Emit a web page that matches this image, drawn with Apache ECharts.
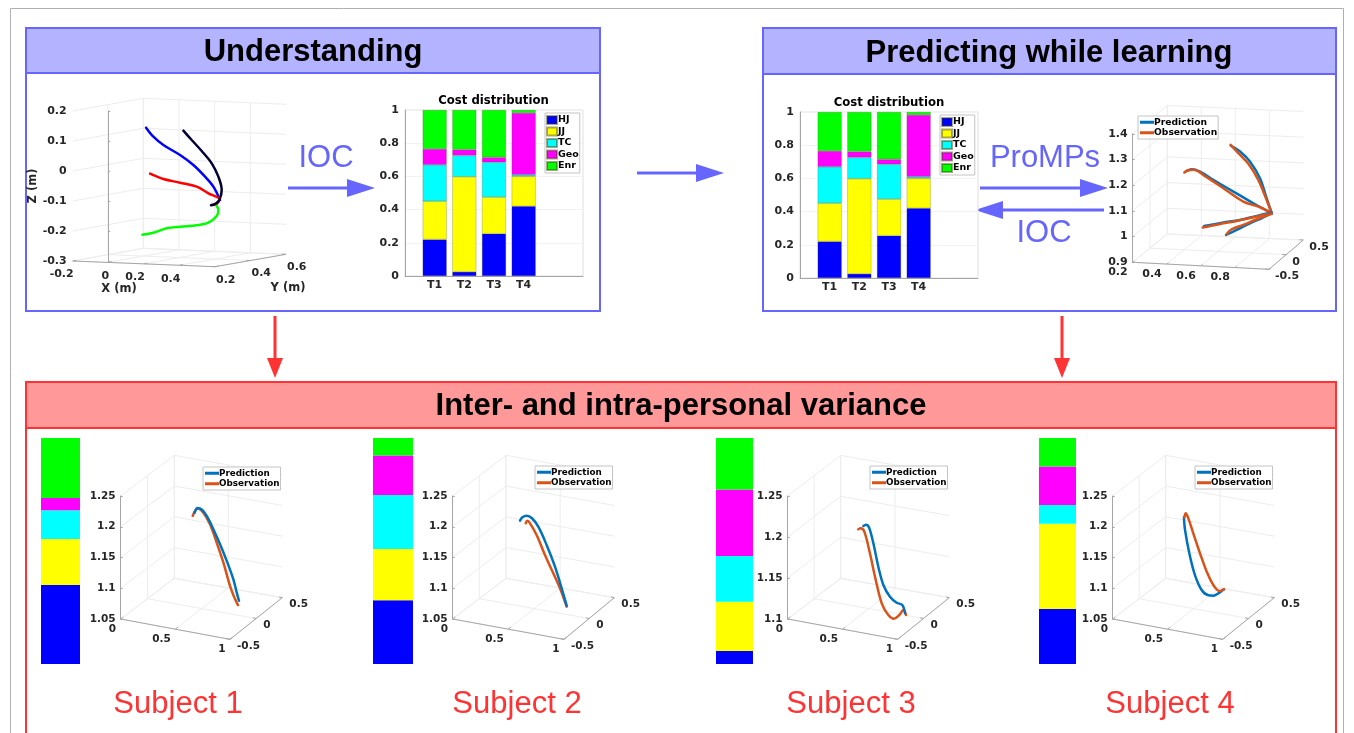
<!DOCTYPE html>
<html><head><meta charset="utf-8">
<style>html,body{margin:0;padding:0;background:#fff}#c{width:1354px;height:733px}</style>
<script src="https://cdn.jsdelivr.net/npm/echarts@6/dist/echarts.min.js"></script>
</head><body><div id="c"></div>
<script>
// ---------- data ----------
const stackNames = ['HJ','JJ','TC','Geo','Enr'];
const stackColors = ['#0000ff','#ffff00','#00ffff','#ff00ff','#00ff00'];
const taskLabels = ['','T1','T2','T3','T4','',''];
const taskHJ  = [null,0.22,0.025,0.255,0.42,null,null];
const taskJJ  = [null,0.23,0.573,0.22,0.18,null,null];
const taskTC  = [null,0.22,0.128,0.21,0.01,null,null];
const taskGeo = [null,0.095,0.036,0.03,0.372,null,null];
const taskEnr = [null,0.235,0.238,0.285,0.018,null,null];
const subject1Cost = [0.35,0.203,0.127,0.055,0.265];
const subject2Cost = [0.282,0.227,0.239,0.175,0.077];
const subject3Cost = [0.0575,0.218,0.202,0.295,0.2275];
const subject4Cost = [0.243,0.378,0.082,0.171,0.126];
const subjectLabels = ['Subject 1','Subject 2','Subject 3','Subject 4'];

// endpoint trajectories: [projected horizontal position, height]
const understandBlue  = [[.2123,.1444],[.2535,.1144],[.3097,.0867],[.4034,.0533],[.4784,.02],[.544,-.0189],[.5908,-.0522],[.6283,-.0967]];
const understandBlack = [[.4222,.1344],[.469,.1033],[.5253,.0667],[.5815,.0256],[.619,-.0189],[.6377,-.0633],[.6246,-.0967],[.6002,-.11],[.5777,-.1144]];
const understandRed   = [[.2348,-.0089],[.3097,-.0267],[.4034,-.0389],[.4971,-.0522],[.5627,-.0744],[.6246,-.0944],[.6096,-.11],[.5815,-.1133]];
const understandGreen = [[.1917,-.2122],[.2535,-.2056],[.3285,-.1911],[.4034,-.1856],[.4971,-.1811],[.5627,-.1722],[.6096,-.15],[.619,-.13],[.6096,-.1167]];

const reachPred1 = [[.775,1.3545],[.83,1.3312],[.888,1.2922],[.947,1.2273],[.986,1.1494],[1.016,1.0909]];
const reachObs1  = [[.775,1.3571],[.82,1.3247],[.879,1.2831],[.937,1.2208],[.982,1.1494],[1.016,1.0909]];
const reachPred2 = [[.517,1.2558],[.546,1.2623],[.595,1.2532],[.673,1.2208],[.791,1.1753],[.908,1.1299],[1.016,1.0909]];
const reachObs2  = [[.503,1.2494],[.527,1.2584],[.556,1.2597],[.634,1.2312],[.732,1.1883],[.849,1.1364],[.947,1.1143],[1.016,1.0909]];
const reachPred3 = [[.619,1.0416],[.732,1.0545],[.83,1.0649],[.928,1.0805],[1.016,1.0935]];
const reachObs3  = [[.611,1.0351],[.712,1.0493],[.81,1.061],[.928,1.0779],[1.016,1.0909]];
const reachPred4 = [[.748,1.0065],[.81,1.026],[.888,1.0519],[.957,1.0714],[1.016,1.0909]];
const reachObs4  = [[.752,1.0104],[.781,1.0286],[.849,1.0455],[.928,1.0675],[1.016,1.0883]];

const subject1Pred = [[.677,1.223],[.704,1.2305],[.741,1.228],[.787,1.2176],[.848,1.196],[.909,1.1716],[.97,1.1446],[1.03,1.1149],[1.061,1.0932],[1.082,1.0797]];
const subject1Obs  = [[.659,1.2176],[.68,1.2257],[.704,1.2295],[.756,1.223],[.817,1.204],[.878,1.1743],[.939,1.1419],[1,1.104],[1.046,1.0824],[1.073,1.0727]];
const subject2Pred = [[.605,1.2099],[.626,1.2153],[.665,1.218],[.71,1.2142],[.769,1.2001],[.844,1.1703],[.919,1.1351],[.979,1.0999],[1.024,1.0717]];
const subject2Obs  = [[.656,1.2056],[.671,1.2099],[.695,1.2056],[.754,1.1866],[.829,1.1541],[.904,1.1243],[.964,1.0999],[1.024,1.0701]];
const subject3Pred = [[.688,1.2134],[.712,1.215],[.739,1.2118],[.779,1.1923],[.824,1.1638],[.87,1.1415],[.93,1.1272],[.991,1.1199],[1.042,1.1171],[1.067,1.1069]];
const subject3Obs  = [[.642,1.2094],[.664,1.2106],[.697,1.2065],[.748,1.1801],[.794,1.1516],[.855,1.1191],[.915,1.1049],[.967,1.1004],[1.015,1.1049],[1.052,1.111],[1.076,1.1049]];
const subject4Pred = [[.648,1.2153],[.658,1.1947],[.697,1.1568],[.748,1.1215],[.809,1.0972],[.87,1.0885],[.915,1.0879],[.961,1.0917],[1.012,1.0982]];
const subject4Obs  = [[.652,1.2153],[.664,1.2218],[.688,1.2137],[.733,1.1893],[.794,1.1568],[.855,1.127],[.915,1.1053],[.97,1.0955],[1.012,1.0982]];

// tick labels of the depth axes
const xTicksUnderstand = ['-0.2','0','0.2','0.4'];
const yTicksUnderstand = ['0.2','0.4','0.6'];
const xTicksReach = ['0.2','0.4','0.6','0.8'];
const yTicksDepth = ['-0.5','0','0.5'];
const xTicksSubject = ['0','0.5','1'];

// ---------- layout helpers ----------
const BOLD = '"DejaVu Sans"', SANS = '"Liberation Sans"';
const INK = '#262626', BLUEL = '#0072bd', ORANGE = '#d95319';
const grid=[], xAxis=[], yAxis=[], series=[], legend=[], graphic=[], title=[];
const line=(a,b,color,w)=>graphic.push({type:'line',silent:true,z:-5,shape:{x1:a[0],y1:a[1],x2:b[0],y2:b[1]},style:{stroke:color,lineWidth:w||1}});
const text=(t,x,y,o)=>graphic.push({type:'text',silent:true,z:5,x,y,rotation:o.rot||0,style:Object.assign({text:t,x:0,y:0,fill:o.c||INK,font:`${o.w||'bold'} ${o.s||10}px ${o.f||BOLD}`,textAlign:o.a||'center',textVerticalAlign:'middle'})});
const mix=(p,q,t)=>[p[0]+(q[0]-p[0])*t,p[1]+(q[1]-p[1])*t];
const up=(p,h)=>[p[0],p[1]-h];

function box(x,y,w,h,fill,stroke,lw){graphic.push({type:'rect',silent:true,z:-10,shape:{x,y,width:w,height:h},style:{fill:fill,stroke:stroke,lineWidth:lw||2}});}
function arrow(x1,y1,x2,y2,color){
  const dx=Math.sign(x2-x1),dy=Math.sign(y2-y1),L=28,W=7;
  const bx=x2-dx*L,by=y2-dy*(dy?20:0);
  if(dy===0){line([x1,y1],[bx,by],color,3);
    graphic.push({type:'polygon',silent:true,z:-4,shape:{points:[[x2,y2],[bx,y2-W-2],[bx,y2+W+2]]},style:{fill:color}});}
  else{line([x1,y1],[bx,by],color,3);
    graphic.push({type:'polygon',silent:true,z:-4,shape:{points:[[x2,y2],[x2-8,by],[x2+8,by]]},style:{fill:color}});}
}

function stacked(cfg){
  const i=grid.length;
  grid.push({left:cfg.l,top:cfg.t,width:cfg.w,height:cfg.h,show:true,borderColor:'#e0e0e0',borderWidth:1,backgroundColor:'#fff'});
  xAxis.push({gridIndex:i,type:'category',boundaryGap:false,data:taskLabels,axisTick:{show:false},axisLine:{lineStyle:{color:'#a6a6a6'}},splitLine:{show:false},
    axisLabel:{interval:0,color:INK,fontFamily:BOLD,fontWeight:'bold',fontSize:11,margin:4}});
  yAxis.push({gridIndex:i,type:'value',min:0,max:1,interval:0.2,axisLine:{show:true,lineStyle:{color:'#a6a6a6'}},axisTick:{show:false},
    splitLine:{lineStyle:{color:'#f2f2f2',width:1}},axisLabel:{color:INK,fontFamily:BOLD,fontWeight:'bold',fontSize:11,margin:6,formatter:v=>String(+v.toFixed(1))}});
  [taskHJ,taskJJ,taskTC,taskGeo,taskEnr].forEach((d,k)=>series.push({type:'bar',name:stackNames[k],xAxisIndex:i,yAxisIndex:i,stack:'s'+i,data:d,barWidth:24,
    itemStyle:{color:stackColors[k],borderColor:'rgba(60,60,0,.45)',borderWidth:.5},animation:false,silent:true}));
  title.push({text:'Cost distribution',left:cfg.l+cfg.tx,top:cfg.t-15,textAlign:'center',padding:0,textStyle:{fontFamily:BOLD,fontWeight:'bold',fontSize:11.7,color:'#000'}});
  legend.push({data:stackNames.map(n=>({name:n})),left:cfg.ll,top:cfg.lt,orient:'vertical',padding:[2,1,2,1],itemGap:1.5,itemWidth:10,itemHeight:8,selectedMode:false,
    backgroundColor:'#fff',borderColor:'#c4c4c4',borderWidth:1,textStyle:{fontFamily:BOLD,fontWeight:'bold',fontSize:9.5,color:'#000',padding:[0,0,0,-4]},icon:'rect'});
}
function column(x,w,vals){
  const i=grid.length;
  grid.push({left:x,top:438,width:w,height:226});
  xAxis.push({gridIndex:i,type:'category',data:['c'],show:false});
  yAxis.push({gridIndex:i,type:'value',min:0,max:1,show:false});
  vals.forEach((v,k)=>series.push({type:'bar',name:stackNames[k],xAxisIndex:i,yAxisIndex:i,stack:'c'+i,data:[v],barWidth:'100%',itemStyle:{color:stackColors[k]},animation:false,silent:true}));
}
function panel(p){
  const {A,B,C,D,H}=p;
  const xF=p.xF, yF=p.yF, zN=p.zTicks, light='#ededed', axisC='#a6a6a6';
  // walls and floor
  for(let k=0;k<zN;k++){const h=H*k/(zN-1);line(up(A,h),up(D,h),light);line(up(D,h),up(C,h),light);}
  xF.forEach(f=>{const a=mix(A,B,f),d=mix(D,C,f);line(a,d,light);if(f<1)line(d,up(d,H),light);});
  yF.forEach(f=>{const a=mix(A,D,f),b=mix(B,C,f);line(a,b,light);if(f>0&&f<1)line(a,up(a,H),light);});
  line(up(D,H),D,light);
  line(A,B,axisC);line(B,C,axisC);
  xF.forEach(f=>{const a=mix(A,B,f);line(a,[a[0]+(D[0]-A[0])*.05,a[1]+(D[1]-A[1])*.05],axisC);});
  yF.forEach(f=>{const b=mix(B,C,f);line(b,[b[0]+(A[0]-B[0])*.03,b[1]+(A[1]-B[1])*.03],axisC);});
  // depth axis labels
  p.xLabels.forEach((t,k)=>{const a=mix(A,B,xF[k]);text(t,a[0]+p.xo[0],a[1]+p.xo[1],{a:'right',s:p.fs});});
  p.yLabels.forEach((t,k)=>{const b=mix(B,C,yF[k]);text(t,b[0]+p.yo[0],b[1]+p.yo[1],{a:'left',s:p.fs});});
  // library scales for the curves and the vertical axis
  const i=grid.length;
  const top=A[1]-H, right=C[0];
  grid.push({left:A[0],top:top,width:right-A[0],height:H});
  const span=(p.uMax-p.uMin)*(right-A[0])/(B[0]-A[0]);
  xAxis.push({gridIndex:i,type:'value',min:p.uMin,max:p.uMin+span,show:false,splitLine:{show:false}});
  yAxis.push({gridIndex:i,type:'value',min:p.zMin,max:p.zMax,interval:p.zStep,
    axisLine:{show:true,lineStyle:{color:axisC}},axisTick:{show:true,inside:true,length:2,lineStyle:{color:axisC}},splitLine:{show:false},
    axisLabel:{color:INK,fontFamily:BOLD,fontWeight:'bold',fontSize:p.fs,margin:p.zm||5,formatter:v=>String(+v.toFixed(2))}});
  p.curves.forEach(c=>series.push({type:'line',name:c.name,xAxisIndex:i,yAxisIndex:i,data:c.data,smooth:0.35,symbol:'none',clip:false,
    lineStyle:{color:c.color,width:2.5,cap:'round'},itemStyle:{color:c.color},animation:false,silent:true,z:c.z||2}));
  if(p.legend) legend.push({data:['Prediction','Observation'],left:p.legend[0],top:p.legend[1],orient:'vertical',padding:[1,1,1,2],itemGap:0,itemWidth:14,itemHeight:3,icon:'rect',selectedMode:false,
    backgroundColor:'#fff',borderColor:'#c4c4c4',borderWidth:1,textStyle:{fontFamily:BOLD,fontWeight:'bold',fontSize:p.lfs||9,color:'#000',padding:[0,0,0,-5],lineHeight:10.5}});
}

// ---------- frames ----------
box(10.5,8.5,1333,760,'#fff','#b0b0b0',1);
box(26,28,574,283,'#fff','#6666ff');  box(26,28,574,45,'#b3b3ff','#6666ff');
box(763,28,573,283,'#fff','#6666ff'); box(763,28,573,46,'#b3b3ff','#6666ff');
box(26,382,1310,400,'#fff','#ff3333');box(26,382,1310,46,'#ff9999','#ff3333');
text('Understanding',313,52,{s:31,f:SANS,c:'#000'});
text('Predicting while learning',1049,53,{s:31,f:SANS,c:'#000'});
text('Inter- and intra-personal variance',681,406,{s:31,f:SANS,c:'#000'});
arrow(288,188,375,188,'#6666ff');
arrow(637,173,724,173,'#6666ff');
arrow(980,188,1108,188,'#6666ff');
arrow(1104,210,975,210,'#6666ff');
arrow(275,316,275,378,'#ff3333');
arrow(1062,316,1062,378,'#ff3333');
text('IOC',326,158,{s:31,f:SANS,w:'normal',c:'#6666ff'});
text('ProMPs',1045,158,{s:31,f:SANS,w:'normal',c:'#6666ff'});
text('IOC',1044,233,{s:31,f:SANS,w:'normal',c:'#6666ff'});
[178,517,851,1170].forEach((x,k)=>text(subjectLabels[k],x,704,{s:31,f:SANS,w:'normal',c:'#ff3333'}));

// ---------- panels ----------
panel({A:[72.7,261],B:[215,266.7],C:[286,254.3],D:[143.3,248.3],H:150,uMin:-.2,uMax:.6,zMin:-.3,zMax:.2,zStep:.1,zTicks:6,fs:11,
  xF:[0,.25,.5,.75,1],yF:[0,.5,1],xLabels:xTicksUnderstand,yLabels:yTicksUnderstand,xo:[1,13.5],yo:[1,13],zm:6,
  curves:[{name:'b',data:understandBlue,color:'#0000ff'},{name:'r',data:understandRed,color:'#ff0000'},{name:'g',data:understandGreen,color:'#00ff00'},{name:'k',data:understandBlack,color:'#000033'}]});
text('X (m)',119,289.5,{s:11.5});text('Y (m)',288,288,{s:11.5});text('Z (m)',33.5,186,{s:11.5,rot:Math.PI/2});

stacked({l:405,t:110,w:178,h:166,tx:88.5,ll:545,lt:113});
stacked({l:800,t:112,w:178,h:166,tx:89,ll:940,lt:115});

panel({A:[1132.7,262.3],B:[1269,269.3],C:[1303.3,240],D:[1167.3,234],H:128.5,uMin:.2,uMax:1,zMin:.9,zMax:1.4,zStep:.1,zTicks:6,fs:11,
  xF:[0,.25,.5,.75,1],yF:[0,.5,1],xLabels:xTicksReach,yLabels:yTicksDepth,xo:[-5,10],yo:[6,7],legend:[1138,116],lfs:9.2,
  curves:[{name:'Prediction',data:reachPred1,color:BLUEL},{name:'Observation',data:reachObs1,color:ORANGE},
          {name:'Prediction',data:reachPred2,color:BLUEL},{name:'Observation',data:reachObs2,color:ORANGE},
          {name:'Prediction',data:reachPred3,color:BLUEL},{name:'Observation',data:reachObs3,color:ORANGE},
          {name:'Prediction',data:reachPred4,color:BLUEL},{name:'Observation',data:reachObs4,color:ORANGE}]});

column(41,39,subject1Cost);column(373,40,subject2Cost);column(716,37,subject3Cost);column(1039,37,subject4Cost);

const subjectBox=(ox,zMin,zTicks,zStep,Ax,Bx,Cx,Dx,leg,pred,obs,predTop)=>panel({
  A:[ox+Ax/3,430+567/3],B:[ox+Bx/3,430+628/3],C:[ox+Cx/3,430+503/3],D:[ox+Dx/3,430+445/3],H:123,uMin:0,uMax:1,zMin,zMax:1.25,zStep,zTicks,fs:10.5,
  xF:[0,.5,1],yF:[0,.5,1],xLabels:xTicksSubject,yLabels:yTicksDepth,xo:[-4.5,10],yo:[7,7],legend:leg,lfs:8.8,
  curves:[{name:'Observation',data:obs,color:ORANGE,z:predTop?2:3},{name:'Prediction',data:pred,color:BLUEL,z:predTop?3:2}]});
subjectBox(30,1.05,5,.05,272,600,757,433,[203,467],subject1Pred,subject1Obs,true);
subjectBox(365,1.05,5,.05,263,597,748,423,[535,466],subject2Pred,subject2Obs,true);
subjectBox(705,1.1,4,.05,248,578,733,407,[870,466],subject3Pred,subject3Obs,true);
subjectBox(1030,1.05,5,.05,248,578,733,407,[1195,466],subject4Pred,subject4Obs,false);

const chart=echarts.init(document.getElementById('c'),null,{renderer:'canvas'});
chart.setOption({animation:false,backgroundColor:'#fff',tooltip:{show:false},title,grid,xAxis,yAxis,series,legend,graphic:{elements:graphic}});
</script></body></html>
